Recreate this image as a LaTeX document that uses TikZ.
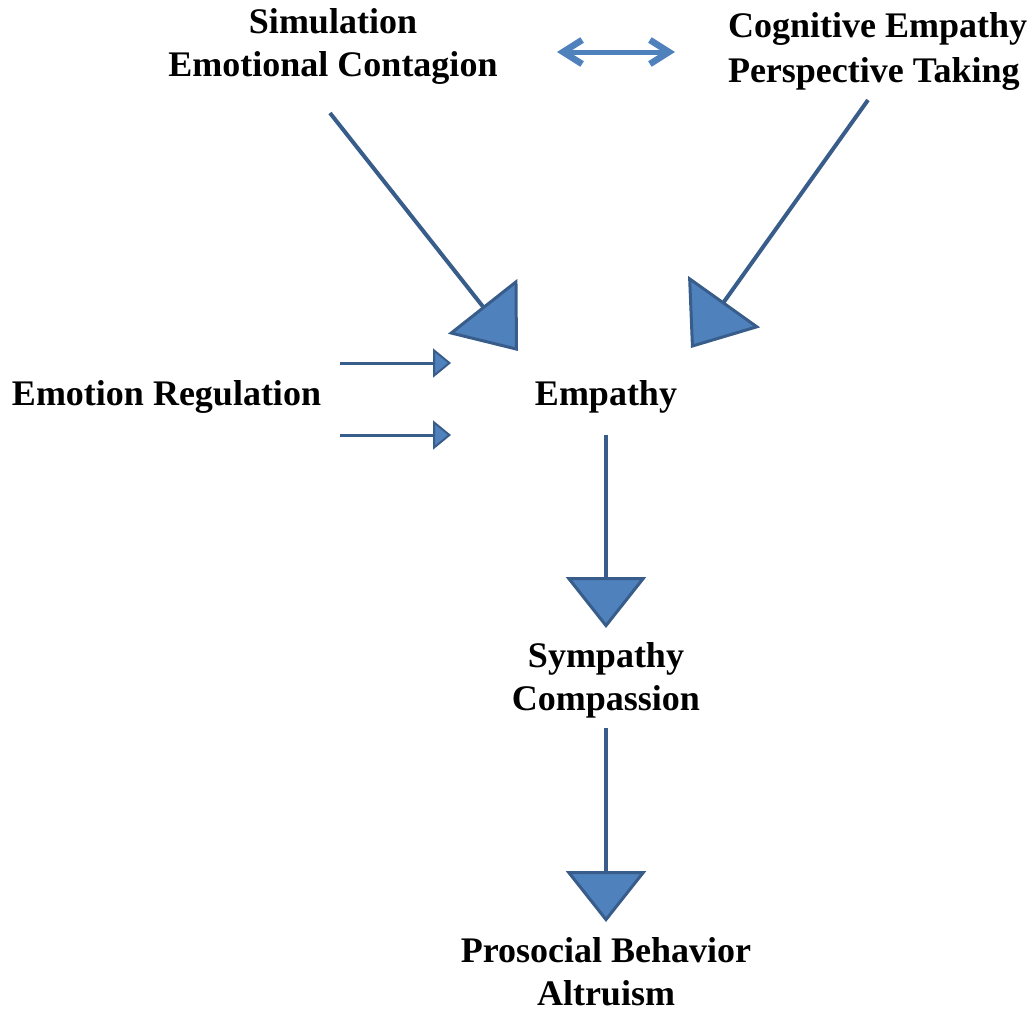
\documentclass[tikz,border=0pt]{standalone}
\usepackage{fontspec}
\setmainfont{Liberation Serif}
\usetikzlibrary{arrows.meta}
\definecolor{linecol}{RGB}{56,93,138}
\definecolor{fillcol}{RGB}{79,129,189}
\begin{document}
\begin{tikzpicture}[x=1pt,y=-1pt,
  lbl/.style={font=\bfseries\fontsize{36}{43}\selectfont, inner sep=0pt, outer sep=0pt},
  bigarrow/.style={draw=linecol, line width=4pt, -{Triangle[width=88pt,length=57pt,line width=3pt,fill=fillcol]}},
  downarrow/.style={draw=linecol, line width=4pt, -{Triangle[width=80pt,length=51pt,line width=3pt,fill=fillcol]}},
  smallarrow/.style={draw=linecol, line width=3pt, -{Triangle[width=29pt,length=18pt,line width=2pt,fill=fillcol]}},
  dblarrow/.style={draw=fillcol, line width=5pt, {Straight Barb[length=19pt,width=24pt,line width=6.5pt]}-{Straight Barb[length=19pt,width=24pt,line width=6.5pt]}}
]
\path[use as bounding box] (0,0) rectangle (1033,1012);

\node[lbl, align=center, anchor=north] (sim) at (333,3) {\strut Simulation\\\strut Emotional Contagion};
\node[lbl, font=\bfseries\fontsize{36}{45}\selectfont, align=left, anchor=north west] (cog) at (728,5.5) {\strut Cognitive Empathy\\\strut Perspective Taking};
\node[lbl, anchor=base west] (reg) at (12,405) {Emotion Regulation};
\node[lbl, anchor=base] (emp) at (606,405) {Empathy};
\node[lbl, align=center, anchor=north] (symp) at (606,637) {\strut Sympathy\\\strut Compassion};
\node[lbl, align=center, anchor=north] (pro) at (606,932) {\strut Prosocial Behavior\\\strut Altruism};

\coordinate (d1) at (557,52);
\coordinate (d2) at (675,52);
\draw[dblarrow] (d1) -- (d2);

\coordinate (a1s) at (330,113);
\coordinate (a1e) at (518,351);
\draw[bigarrow] (a1s) -- (a1e);
\coordinate (a2s) at (868,100);
\coordinate (a2e) at (691,348);
\draw[bigarrow] (a2s) -- (a2e);

\coordinate (r1s) at (340,363);
\coordinate (r1e) at (451,363);
\draw[smallarrow] (r1s) -- (r1e);
\coordinate (r2s) at (340,435);
\coordinate (r2e) at (451,435);
\draw[smallarrow] (r2s) -- (r2e);

\draw[downarrow, shorten <=22pt, shorten >=9pt] (emp.south) -- (symp.north);
\draw[downarrow, shorten <=5pt, shorten >=10pt] (symp.south) -- (pro.north);
\end{tikzpicture}
\end{document}
